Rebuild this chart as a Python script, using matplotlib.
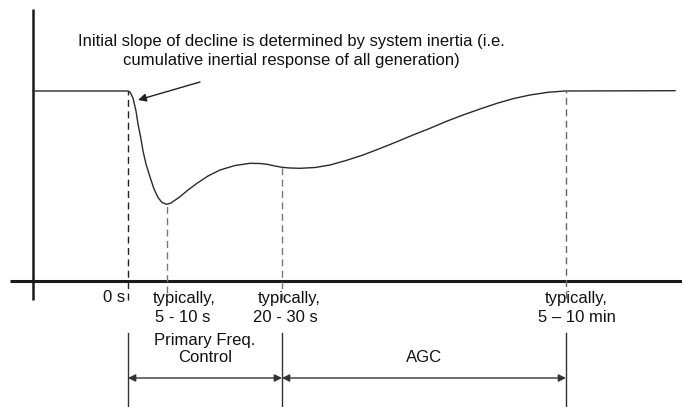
import matplotlib
matplotlib.use("Agg")
import matplotlib.pyplot as plt

plt.rcParams['font.family'] = ['Liberation Sans', 'DejaVu Sans']

# frequency response (x = time position, y = pixel row of the trace)
curve_x = [33, 128, 130, 133, 136, 138, 141, 143, 146, 150, 154, 158, 162, 166.7, 171, 176,
           180, 188, 197, 208, 220, 235, 250, 260, 267, 275, 282, 290, 300, 315, 330, 346,
           363, 380, 397, 413, 430, 446, 463, 480, 497, 513, 530, 548, 565, 675]
curve_row = [91, 91, 92, 98, 111, 124, 139, 151, 164, 177, 189, 197.5, 202.5, 204.3, 203, 199.5,
             196.7, 190, 183.3, 176, 170, 165.5, 163.3, 163.5, 164.3, 166, 167.3, 168, 168.3, 167.5,
             165, 160.5, 155, 148.5, 141.7, 135, 128.3, 121.5, 115, 109, 103.3, 98.7, 95, 92.3,
             91, 90.7]
axis_row = 281
curve_f = [axis_row - r for r in curve_row]

# event markers
event_x = [128, 167, 282, 566]
event_top = [190, 76.7, 113.7, 190]
event_bottom = [-19, -12, -19, -17]
event_color = ['#222222', '#777777', '#777777', '#666666']

tick_line1 = ['0 s', 'typically,', 'typically,', 'typically,']
tick_line1_x = [114, 184, 289, 576]
tick_line2 = ['5 - 10 s', '20 - 30 s', '5 \u2013 10 min']
tick_line2_x = [183, 285, 577]

# control bands
band_edges = [128, 282, 566]
band_labels = ['Primary Freq.\nControl', 'AGC']
band_label_x = [205, 424]
band_label_f = [-68, -76]

note = 'Initial slope of decline is determined by system inertia (i.e.\ncumulative inertial response of all generation)'

fig = plt.figure(figsize=(6.82, 4.07), dpi=100)
ax = fig.add_axes([0, 0, 1, 1])
ax.set_xlim(0, 682)
ax.set_ylim(axis_row - 407, axis_row)
ax.axis('off')

# axes drawn as plain lines
ax.plot([33, 33], [-19, 272], color='#1a1a1a', lw=1.8, solid_capstyle='butt')
ax.plot([10, 682], [0, 0], color='#1a1a1a', lw=2.2, solid_capstyle='butt')

ax.plot(curve_x, curve_f, color='#2a2a2a', lw=1.0)

for x, top, bot, c in zip(event_x, event_top, event_bottom, event_color):
    ax.plot([x, x], [bot, top], color=c, lw=1.0, dashes=(5, 3.2))

fs = 12
for x, lab in zip(tick_line1_x, tick_line1):
    ax.text(x, -17, lab, ha='center', va='center', fontsize=fs, color='#111111')
for x, lab in zip(tick_line2_x, tick_line2):
    ax.text(x, -36, lab, ha='center', va='center', fontsize=fs, color='#111111')

for x in band_edges:
    ax.plot([x, x], [-52, -126], color='#333333', lw=1.0)

arrow_y = -97
for x0, x1 in zip(band_edges[:-1], band_edges[1:]):
    ax.annotate('', xy=(x0, arrow_y), xytext=(x1, arrow_y),
                arrowprops=dict(arrowstyle='<|-|>', color='#333333', lw=1.0,
                                mutation_scale=11, shrinkA=0, shrinkB=0))

for x, f, lab in zip(band_label_x, band_label_f, band_labels):
    ax.text(x, f, lab, ha='center', va='center', fontsize=fs, linespacing=1.2,
            color='#111111')

ax.text(291, 230, note, ha='center', va='center', fontsize=fs, linespacing=1.35,
        color='#111111')
ax.annotate('', xy=(138, 181), xytext=(200, 199),
            arrowprops=dict(arrowstyle='-|>', color='#222222', lw=1.0,
                            mutation_scale=12, shrinkA=0, shrinkB=0))

fig.savefig('out.png', dpi=100)
